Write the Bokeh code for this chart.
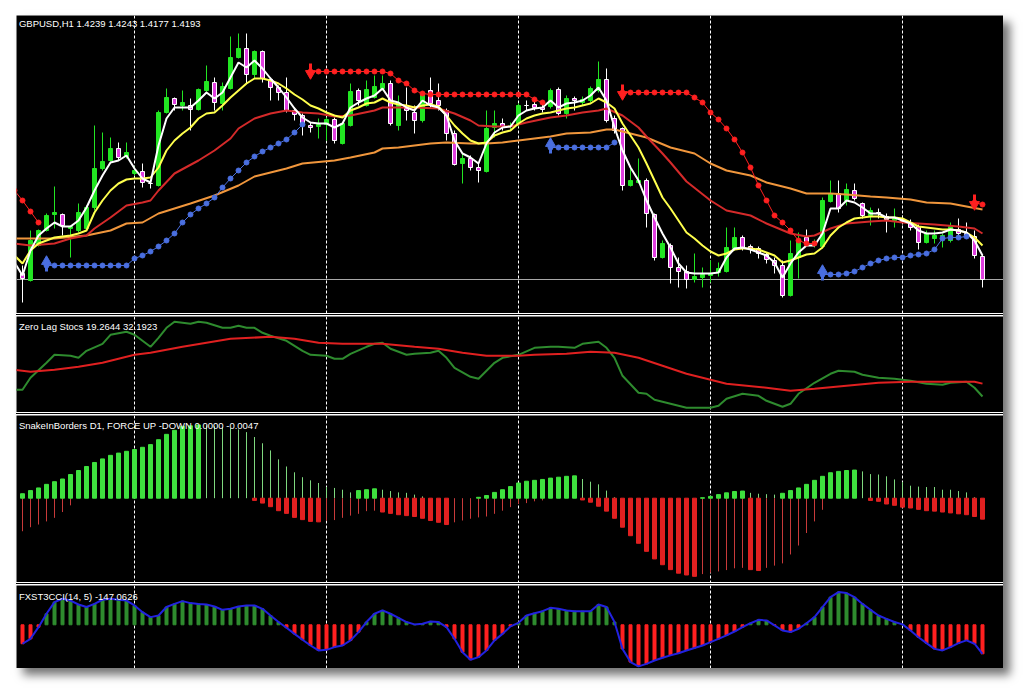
from bokeh.plotting import figure
from bokeh.layouts import column, row
from bokeh.models import Range1d, Span, Label, ColumnDataSource, Spacer
from bokeh.embed import file_html
from bokeh.resources import INLINE

# ---------------- data (GBPUSD H1) ----------------
open_ = [1.4205, 1.4191, 1.4261, 1.4291, 1.4323, 1.4323, 1.4295, 1.4291, 1.4295, 1.4337,
         1.4415, 1.4431, 1.4455, 1.4439, 1.4405, 1.4409, 1.4385, 1.4381, 1.4527, 1.4555,
         1.4541, 1.4541, 1.4533, 1.4571, 1.4587, 1.4545, 1.4575, 1.4637, 1.4655, 1.4603,
         1.4649, 1.4593, 1.4577, 1.4567, 1.4531, 1.4521, 1.4501, 1.4499, 1.4503, 1.4513,
         1.4465, 1.4501, 1.4571, 1.4541, 1.4557, 1.4575, 1.4585, 1.4501, 1.4535, 1.4527,
         1.4511, 1.4571, 1.4551, 1.4531, 1.4485, 1.4425, 1.4435, 1.4417, 1.4409, 1.4497,
         1.4505, 1.4499, 1.4503, 1.4541, 1.4543, 1.4537, 1.4539, 1.4573, 1.4525, 1.4555,
         1.4547, 1.4551, 1.4571, 1.4593, 1.4515, 1.4495, 1.4381, 1.4387, 1.4391, 1.4323,
         1.4237, 1.4261, 1.4217, 1.4209, 1.4193, 1.4197, 1.4201, 1.4207, 1.4209, 1.4255,
         1.4277, 1.4259, 1.4255, 1.4243, 1.4231, 1.4221, 1.4161, 1.4237, 1.4277, 1.4263,
         1.4259, 1.4349, 1.4365, 1.4351, 1.4371, 1.4345, 1.4321, 1.4327, 1.4319, 1.4311,
         1.4311, 1.4307, 1.4299, 1.4267, 1.4275, 1.4279, 1.4271, 1.4293, 1.4285, 1.4279,
         1.4239]
high_ = [1.4221, 1.4291, 1.4293, 1.4325, 1.4379, 1.4325, 1.4301, 1.4345, 1.4341, 1.4501,
         1.4487, 1.4477, 1.4467, 1.4467, 1.4419, 1.4425, 1.4391, 1.4531, 1.4575, 1.4557,
         1.4571, 1.4555, 1.4575, 1.4621, 1.4597, 1.4587, 1.4679, 1.4685, 1.4685, 1.4651,
         1.4651, 1.4597, 1.4581, 1.4597, 1.4537, 1.4525, 1.4507, 1.4515, 1.4517, 1.4517,
         1.4507, 1.4585, 1.4575, 1.4591, 1.4601, 1.4601, 1.4591, 1.4561, 1.4577, 1.4541,
         1.4565, 1.4597, 1.4585, 1.4535, 1.4491, 1.4447, 1.4441, 1.4425, 1.4531, 1.4531,
         1.4515, 1.4507, 1.4545, 1.4551, 1.4551, 1.4545, 1.4575, 1.4577, 1.4561, 1.4559,
         1.4559, 1.4579, 1.4629, 1.4615, 1.4521, 1.4497, 1.4415, 1.4435, 1.4395, 1.4325,
         1.4271, 1.4265, 1.4237, 1.4221, 1.4245, 1.4217, 1.4231, 1.4227, 1.4297, 1.4297,
         1.4281, 1.4263, 1.4259, 1.4247, 1.4237, 1.4231, 1.4271, 1.4287, 1.4293, 1.4273,
         1.4357, 1.4391, 1.4391, 1.4385, 1.4385, 1.4347, 1.4337, 1.4335, 1.4325, 1.4335,
         1.4321, 1.4313, 1.4303, 1.4291, 1.4291, 1.4285, 1.4307, 1.4315, 1.4307, 1.4291,
         1.4243]
low_ = [1.4147, 1.4189, 1.4259, 1.4289, 1.4295, 1.4281, 1.4237, 1.4287, 1.4293, 1.4331,
        1.4411, 1.4429, 1.4431, 1.4435, 1.4401, 1.4377, 1.4375, 1.4379, 1.4525, 1.4531,
        1.4531, 1.4491, 1.4531, 1.4567, 1.4531, 1.4531, 1.4573, 1.4635, 1.4585, 1.4595,
        1.4587, 1.4551, 1.4551, 1.4527, 1.4511, 1.4481, 1.4487, 1.4475, 1.4471, 1.4465,
        1.4463, 1.4499, 1.4541, 1.4539, 1.4555, 1.4571, 1.4501, 1.4491, 1.4511, 1.4485,
        1.4507, 1.4537, 1.4531, 1.4471, 1.4421, 1.4385, 1.4411, 1.4387, 1.4407, 1.4477,
        1.4491, 1.4491, 1.4499, 1.4531, 1.4531, 1.4527, 1.4535, 1.4521, 1.4515, 1.4531,
        1.4541, 1.4547, 1.4567, 1.4507, 1.4485, 1.4371, 1.4379, 1.4385, 1.4297, 1.4231,
        1.4235, 1.4185, 1.4177, 1.4175, 1.4187, 1.4177, 1.4187, 1.4199, 1.4207, 1.4251,
        1.4251, 1.4245, 1.4235, 1.4225, 1.4205, 1.4157, 1.4159, 1.4195, 1.4261, 1.4257,
        1.4255, 1.4347, 1.4327, 1.4341, 1.4351, 1.4315, 1.4301, 1.4315, 1.4287, 1.4297,
        1.4303, 1.4291, 1.4253, 1.4265, 1.4265, 1.4257, 1.4267, 1.4279, 1.4275, 1.4235,
        1.4177]
close_ = [1.4195, 1.4271, 1.4291, 1.4321, 1.4327, 1.4301, 1.4299, 1.4327, 1.4337, 1.4415,
          1.4429, 1.4455, 1.4437, 1.4447, 1.4411, 1.4387, 1.4385, 1.4527, 1.4557, 1.4543,
          1.4547, 1.4533, 1.4573, 1.4589, 1.4547, 1.4579, 1.4637, 1.4655, 1.4603, 1.4649,
          1.4595, 1.4577, 1.4567, 1.4531, 1.4523, 1.4501, 1.4497, 1.4503, 1.4513, 1.4471,
          1.4505, 1.4569, 1.4551, 1.4573, 1.4579, 1.4585, 1.4505, 1.4545, 1.4531, 1.4511,
          1.4563, 1.4545, 1.4541, 1.4485, 1.4423, 1.4435, 1.4417, 1.4411, 1.4495, 1.4505,
          1.4499, 1.4501, 1.4541, 1.4541, 1.4537, 1.4533, 1.4571, 1.4525, 1.4555, 1.4551,
          1.4553, 1.4575, 1.4593, 1.4511, 1.4491, 1.4381, 1.4391, 1.4391, 1.4325, 1.4237,
          1.4265, 1.4217, 1.4209, 1.4193, 1.4199, 1.4203, 1.4205, 1.4215, 1.4257, 1.4277,
          1.4257, 1.4253, 1.4245, 1.4233, 1.4221, 1.4161, 1.4245, 1.4271, 1.4269, 1.4269,
          1.4351, 1.4365, 1.4335, 1.4373, 1.4355, 1.4321, 1.4331, 1.4325, 1.4313, 1.4315,
          1.4309, 1.4297, 1.4267, 1.4285, 1.4281, 1.4281, 1.4299, 1.4285, 1.4279, 1.4241,
          1.4193]

# moving averages (white: fast, yellow, red, orange: slow)
white_x = list(range(-1, 121))
white_ma = [1.4227, 1.4201, 1.4251, 1.4281, 1.4295, 1.4307, 1.4299, 1.4299, 1.4311, 1.4337, 1.4371,
            1.4401, 1.4427, 1.4431, 1.4441, 1.4415, 1.4395, 1.4387, 1.4461, 1.4515, 1.4537,
            1.4537, 1.4537, 1.4551, 1.4567, 1.4555, 1.4567, 1.4597, 1.4627, 1.4617, 1.4631,
            1.4615, 1.4595, 1.4577, 1.4557, 1.4535, 1.4517, 1.4507, 1.4505, 1.4505, 1.4497,
            1.4505, 1.4537, 1.4547, 1.4555, 1.4561, 1.4575, 1.4551, 1.4547, 1.4537, 1.4531,
            1.4551, 1.4541, 1.4537, 1.4521, 1.4471, 1.4445, 1.4437, 1.4425, 1.4465, 1.4487,
            1.4497, 1.4499, 1.4521, 1.4531, 1.4535, 1.4537, 1.4551, 1.4537, 1.4545, 1.4547,
            1.4551, 1.4561, 1.4577, 1.4551, 1.4497, 1.4451, 1.4417, 1.4391, 1.4351, 1.4317,
            1.4285, 1.4257, 1.4225, 1.4207, 1.4205, 1.4205, 1.4205, 1.4207, 1.4237, 1.4255,
            1.4257, 1.4253, 1.4247, 1.4241, 1.4227, 1.4197, 1.4225, 1.4247, 1.4261, 1.4261,
            1.4285, 1.4335, 1.4335, 1.4351, 1.4347, 1.4337, 1.4325, 1.4325, 1.4317, 1.4317,
            1.4311, 1.4305, 1.4291, 1.4285, 1.4285, 1.4287, 1.4293, 1.4291, 1.4287, 1.4271,
            1.4241]
yellow_x = list(range(-1, 121))
yellow_ma = [1.4241, 1.4225, 1.4251, 1.4265, 1.4271, 1.4277, 1.4279, 1.4281, 1.4285, 1.4291, 1.4327,
             1.4351, 1.4371, 1.4385, 1.4393, 1.4395, 1.4395, 1.4397, 1.4417, 1.4451, 1.4471,
             1.4485, 1.4497, 1.4515, 1.4525, 1.4527, 1.4541, 1.4557, 1.4571, 1.4585, 1.4595,
             1.4595, 1.4591, 1.4585, 1.4575, 1.4563, 1.4553, 1.4541, 1.4535, 1.4527, 1.4521,
             1.4517, 1.4531, 1.4537, 1.4545, 1.4547, 1.4555, 1.4547, 1.4543, 1.4541, 1.4537,
             1.4541, 1.4543, 1.4539, 1.4521, 1.4501, 1.4485, 1.4471, 1.4465, 1.4467, 1.4481,
             1.4487, 1.4491, 1.4505, 1.4515, 1.4521, 1.4525, 1.4527, 1.4531, 1.4535, 1.4537,
             1.4541, 1.4545, 1.4555, 1.4547, 1.4535, 1.4505, 1.4481, 1.4457, 1.4425, 1.4391,
             1.4357, 1.4335, 1.4311, 1.4287, 1.4275, 1.4261, 1.4249, 1.4241, 1.4245, 1.4253,
             1.4255, 1.4255, 1.4253, 1.4247, 1.4241, 1.4227, 1.4231, 1.4237, 1.4243, 1.4245,
             1.4257, 1.4281, 1.4297, 1.4307, 1.4315, 1.4317, 1.4319, 1.4319, 1.4317, 1.4317,
             1.4315, 1.4307, 1.4299, 1.4297, 1.4295, 1.4293, 1.4293, 1.4291, 1.4287, 1.4277,
             1.4261]
red_x = [-1, 1, 4, 6, 8, 9, 11, 13, 15, 16, 17, 19, 22, 24, 26, 27, 29, 31, 33, 35,
         37, 39, 41, 44, 45, 47, 49, 52, 54, 56, 57, 59, 61, 63, 66, 68, 70, 72, 73, 75,
         77, 78, 80, 81, 83, 86, 88, 91, 93, 96, 98, 99, 101, 103, 106, 108, 110, 112, 114, 117,
         119, 120]
red_ma = [1.4265, 1.4261, 1.4265, 1.4275, 1.4281, 1.4295, 1.4317, 1.4341, 1.4347, 1.4351,
          1.4371, 1.4405, 1.4431, 1.4451, 1.4475, 1.4495, 1.4515, 1.4525, 1.4531, 1.4527,
          1.4525, 1.4519, 1.4521, 1.4531, 1.4537, 1.4537, 1.4537, 1.4535, 1.4525, 1.4511,
          1.4501, 1.4499, 1.4499, 1.4507, 1.4517, 1.4521, 1.4527, 1.4531, 1.4535, 1.4521,
          1.4497, 1.4479, 1.4445, 1.4427, 1.4389, 1.4351, 1.4331, 1.4321, 1.4305, 1.4285,
          1.4279, 1.4281, 1.4295, 1.4305, 1.4309, 1.4311, 1.4307, 1.4305, 1.4303, 1.4299,
          1.4295, 1.4285]
orange_x = [-1, 4, 8, 11, 13, 15, 17, 21, 24, 27, 29, 33, 35, 39, 41, 44, 45, 47, 51, 53,
            56, 58, 60, 62, 66, 68, 71, 73, 74, 76, 78, 81, 84, 86, 88, 91, 93, 96, 98, 101,
            103, 106, 108, 111, 113, 116, 118, 120]
orange_ma = [1.4275, 1.4275, 1.4281, 1.4291, 1.4305, 1.4307, 1.4325, 1.4345, 1.4361, 1.4381,
             1.4399, 1.4415, 1.4425, 1.4431, 1.4437, 1.4447, 1.4455, 1.4457, 1.4465, 1.4467,
             1.4465, 1.4465, 1.4467, 1.4471, 1.4479, 1.4485, 1.4487, 1.4493, 1.4493, 1.4485,
             1.4477, 1.4457, 1.4445, 1.4425, 1.4411, 1.4401, 1.4387, 1.4375, 1.4365, 1.4365,
             1.4363, 1.4359, 1.4357, 1.4353, 1.4347, 1.4345, 1.4339, 1.4333]

# trailing-stop dots: blue (support) and red (resistance) segments
blue_sar = [
    (list(range(3, 36)), [1.4221] * 11 + [1.4235, 1.4241, 1.4249, 1.4259, 1.4271, 1.4285, 1.4307,
                                          1.4323, 1.4335, 1.4345, 1.4357, 1.4377, 1.4395, 1.4411,
                                          1.4427, 1.4439, 1.4449, 1.4457, 1.4465, 1.4473, 1.4487, 1.4503]),
    (list(range(66, 75)), [1.4457] * 8 + [1.4467]),
    (list(range(100, 119)), [1.4203, 1.4203, 1.4203, 1.4205, 1.4209, 1.4217, 1.4225, 1.4231, 1.4235,
                             1.4237, 1.4237, 1.4241, 1.4243, 1.4245, 1.4253, 1.4275, 1.4277, 1.4277, 1.4279]),
]
red_sar = [
    (list(range(-1, 3)), [1.4371, 1.4351, 1.4329, 1.4307]),
    (list(range(36, 66)), [1.4609] * 10 + [1.4605, 1.4591, 1.4585, 1.4571, 1.4565] + [1.4563] * 13
     + [1.4553, 1.4547]),
    (list(range(75, 100)), [1.4567] * 9 + [1.4557, 1.4547, 1.4527, 1.4513, 1.4495, 1.4473, 1.4447,
                                          1.4417, 1.4381, 1.4351, 1.4321, 1.4307, 1.4291, 1.4271,
                                          1.4265, 1.4265]),
    ([119, 120], [1.4347, 1.4343]),
]
up_arrow_x = [3, 66, 100]
up_arrow_y = [1.4221, 1.4457, 1.4203]
dn_arrow_x = [36, 75, 119]
dn_arrow_y = [1.4609, 1.4567, 1.4347]

# Zero Lag Stochastic
stoch_main_x = [-1, 0, 1, 3, 4, 6, 7, 8, 10, 11, 13, 14, 15, 16, 17, 18, 19, 21, 22, 23,
                25, 26, 27, 28, 29, 30, 31, 33, 34, 35, 36, 38, 39, 40, 41, 43, 44, 45, 46, 48,
                49, 51, 52, 53, 54, 56, 57, 58, 59, 60, 62, 64, 66, 67, 69, 70, 72, 73, 74, 75,
                77, 78, 79, 81, 83, 86, 87, 88, 90, 92, 93, 95, 96, 97, 99, 101, 102, 104, 105, 107,
                109, 111, 113, 115, 116, 118, 119, 120]
stoch_main = [26, 26, 38, 53, 61, 60, 58, 65, 72, 81, 84, 81, 75, 69, 78, 88, 94, 92, 94, 93,
              88, 88, 90, 88, 88, 83, 80, 75, 70, 65, 61, 60, 57, 57, 62, 69, 72, 73, 67, 61,
              62, 63, 65, 58, 48, 39, 37, 45, 53, 58, 61, 68, 69, 69, 68, 72, 74, 68, 58, 40,
              23, 22, 16, 12, 8, 8, 10, 17, 22, 20, 15, 9, 12, 22, 33, 42, 45, 44, 41, 38,
              37, 35, 32, 31, 33, 34, 28, 19.2644]
stoch_sig_x = [-1, 1, 4, 7, 10, 12, 14, 16, 20, 23, 26, 31, 34, 37, 40, 43, 45, 49, 52, 55,
               58, 62, 64, 68, 71, 74, 77, 80, 83, 86, 88, 93, 96, 99, 103, 107, 111, 115, 119, 120]
stoch_sig = [46, 44, 46, 49, 53, 57, 61, 63, 69, 73, 77, 79, 77, 73, 72, 72, 72, 69, 67, 63,
             60, 60, 61, 62, 64, 63, 58, 50, 42, 36, 32, 28, 25, 27, 30, 33, 34, 34, 34, 32.1923]

# SnakeInBorders force up / down
snake_up = [0.0010, 0.0017, 0.0023, 0.0031, 0.0037, 0.0043, 0.0053, 0.0062, 0.0071, 0.0080,
            0.0088, 0.0096, 0.0101, 0.0105, 0.0109, 0.0114, 0.0120, 0.0131, 0.0143, 0.0152,
            0.0161, 0.0162, 0.0164, 0.0163, 0.0161, 0.0159, 0.0157, 0.0154, 0.0148, 0.0137,
            0.0123, 0.0107, 0.0087, 0.0071, 0.0058, 0.0047, 0.0040, 0.0034, 0.0025, 0.0023,
            0.0019, 0.0013, 0.0017, 0.0019, 0.0021, 0.0019, 0.0016, 0.0013, 0.0012, 0.0008,
            0.0004, 0.0, 0.0, 0.0, 0.0, 0.0, 0.0, 0.0002, 0.0006, 0.0013,
            0.0019, 0.0026, 0.0034, 0.0038, 0.0040, 0.0042, 0.0045, 0.0047, 0.0049, 0.0050,
            0.0043, 0.0037, 0.0031, 0.0017, 0.0002, 0.0, 0.0, 0.0, 0.0, 0.0,
            0.0, 0.0, 0.0, 0.0, 0.0, 0.0001, 0.0004, 0.0008, 0.0012, 0.0015,
            0.0016, 0.0012, 0.0010, 0.0009, 0.0008, 0.0011, 0.0017, 0.0023, 0.0031, 0.0040,
            0.0049, 0.0057, 0.0060, 0.0062, 0.0063, 0.0060, 0.0054, 0.0053, 0.0049, 0.0042,
            0.0036, 0.0028, 0.0026, 0.0025, 0.0025, 0.0019, 0.0019, 0.0016, 0.0013, 0.0002,
            0.0000]
snake_dn = [-0.0074, -0.0065, -0.0059, -0.0052, -0.0044, -0.0031, -0.0016, 0.0, 0.0, 0.0,
            0.0, 0.0, 0.0, 0.0, 0.0, 0.0, 0.0, 0.0, 0.0, 0.0,
            0.0, 0.0, 0.0, 0.0, 0.0, 0.0, 0.0, 0.0, 0.0, -0.0005,
            -0.0011, -0.0019, -0.0028, -0.0034, -0.0043, -0.0048, -0.0052, -0.0053, -0.0050, -0.0049,
            -0.0044, -0.0039, -0.0035, -0.0029, -0.0028, -0.0031, -0.0034, -0.0037, -0.0039, -0.0041,
            -0.0045, -0.0050, -0.0054, -0.0059, -0.0054, -0.0050, -0.0046, -0.0043, -0.0041, -0.0035,
            -0.0028, -0.0020, -0.0013, -0.0011, -0.0007, -0.0005, 0.0, 0.0, 0.0, 0.0,
            -0.0004, -0.0009, -0.0018, -0.0029, -0.0045, -0.0065, -0.0084, -0.0101, -0.0119, -0.0136,
            -0.0149, -0.0160, -0.0168, -0.0172, -0.0175, -0.0170, -0.0167, -0.0164, -0.0161, -0.0157,
            -0.0156, -0.0160, -0.0162, -0.0156, -0.0151, -0.0146, -0.0126, -0.0106, -0.0078, -0.0052,
            -0.0026, 0.0, 0.0, 0.0, 0.0, 0.0, -0.0005, -0.0007, -0.0013, -0.0016,
            -0.0020, -0.0022, -0.0025, -0.0028, -0.0029, -0.0031, -0.0033, -0.0035, -0.0037, -0.0041,
            -0.0047]

# FXST3CCI(14, 5)
cci = [-96, -71, -12, 56, 115, 132, 123, 103, 90, 106,
       127, 132, 127, 123, 98, 64, 39, 47, 90, 106,
       120, 110, 106, 103, 93, 76, 81, 93, 98, 98,
       81, 47, 14, -15, -46, -76, -105, -130, -127, -113,
       -105, -79, -37, 14, 56, 73, 56, 35, 14, 2,
       5, 17, 14, -12, -71, -139, -177, -164, -130, -79,
       -46, -8, 10, 47, 59, 69, 86, 81, 73, 69,
       69, 69, 103, 90, 14, -122, -189, -211, -198, -181,
       -167, -155, -144, -130, -118, -105, -88, -71, -54, -34,
       -12, 8, 25, 22, -3, -29, -37, -20, 8, 39,
       90, 140, 166, 161, 140, 106, 76, 47, 30, 14,
       2, -29, -63, -93, -122, -130, -113, -93, -79, -96,
       -147.0626]

day_sep = [14, 38, 62, 86, 110]

title_main = "GBPUSD,H1  1.4239 1.4243 1.4177 1.4193"
title_stoch = "Zero Lag Stocs 19.2644 32.1923"
title_snake = "SnakeInBorders D1, FORCE UP -DOWN  0.0000 -0.0047"
title_cci = "FXST3CCI(14, 5) -147.0626"

# ---------------- layout ----------------
N = len(close_)
idx = list(range(N))
FRAME_W = 987
xr = Range1d(-0.75, 122.625)

H1, H2, H3, H4 = 298, 96, 167, 83
R1 = (1.4125, 1.4721)
R2 = (3.3, 99.3)
R3 = (-0.01888, 0.01852)
R4 = (-221.6, 199.3)


def make_pane(h, rng):
    p = figure(width=FRAME_W, height=h, x_range=xr, y_range=Range1d(*rng),
               output_backend="svg", toolbar_location=None, min_border=0,
               x_axis_location=None, y_axis_location=None,
               background_fill_color="black", border_fill_color="black",
               outline_line_color=None)
    p.grid.visible = False
    for g in day_sep:
        p.add_layout(Span(location=g, dimension="height", line_color="white",
                          line_width=1, line_dash="3 2", level="underlay"))
    return p


def add_title(p, text, h, rng, top_px):
    ppx = (rng[1] - rng[0]) / h
    p.add_layout(Label(x=-0.45, y=rng[1] - top_px * ppx, text=text, text_color="white",
                       text_font="Liberation Sans", text_font_size="9.5px",
                       text_baseline="top", text_align="left"))


# ---- main pane ----
p1 = make_pane(H1, R1)
px1 = (R1[1] - R1[0]) / H1
p1.add_layout(Span(location=close_[-1], dimension="width", line_color="#a8a8a8",
                   line_width=1, level="underlay"))

BULL, BEAR = "#22e622", "#e03ee0"
fill = [BULL if c > o else (BEAR if c < o else "white") for o, c in zip(open_, close_)]
edge = [BULL if c > o else "white" for o, c in zip(open_, close_)]
src = ColumnDataSource(dict(x=idx, hi=high_, lo=low_,
                            top=[max(o, c) for o, c in zip(open_, close_)],
                            bot=[min(o, c) for o, c in zip(open_, close_)],
                            fill=fill, edge=edge))
p1.segment(x0="x", y0="lo", x1="x", y1="hi", line_color="edge", line_width=1, source=src)
p1.vbar(x="x", width=0.5, top="top", bottom="bot", fill_color="fill", line_color="edge",
        line_width=1, source=src)

p1.line(orange_x, orange_ma, line_color="#f0963c", line_width=2)
p1.line(red_x, red_ma, line_color="#d42a2a", line_width=2)
p1.line(yellow_x, yellow_ma, line_color="#ffff4d", line_width=2)
p1.line(white_x, white_ma, line_color="white", line_width=2)

BLUE, RED = "#4a6fe0", "#ff2020"
for xs, ys in blue_sar:
    p1.line(xs, ys, line_color=BLUE, line_width=1)
    p1.scatter(xs, ys, size=5, color=BLUE)
for xs, ys in red_sar:
    p1.line(xs, ys, line_color=RED, line_width=1)
    p1.scatter(xs, ys, size=5, color=RED)

# arrows (head + stem)
p1.scatter(up_arrow_x, [y + 4 * px1 for y in up_arrow_y], marker="triangle", size=10, color=BLUE)
p1.segment(up_arrow_x, [y + 1 * px1 for y in up_arrow_y], up_arrow_x,
           [y - 6 * px1 for y in up_arrow_y], line_width=3, line_color=BLUE)
p1.scatter(dn_arrow_x, [y - 2 * px1 for y in dn_arrow_y], marker="inverted_triangle", size=10, color=RED)
p1.segment(dn_arrow_x, [y + 1 * px1 for y in dn_arrow_y], dn_arrow_x,
           [y + 8 * px1 for y in dn_arrow_y], line_width=3, line_color=RED)
add_title(p1, title_main, H1, R1, 2)

# ---- zero lag stochastic ----
p2 = make_pane(H2, R2)
p2.line(stoch_main_x, stoch_main, line_color="#2e8b2e", line_width=2)
p2.line(stoch_sig_x, stoch_sig, line_color="#e02020", line_width=2)
add_title(p2, title_stoch, H2, R2, 4)

# ---- snake in borders ----
p3 = make_pane(H3, R3)
g_thick = [True] + [snake_up[i] > snake_up[i - 1] for i in range(1, N)]
r_thick = [False] + [abs(snake_dn[i]) > abs(snake_dn[i - 1]) for i in range(1, N)]
gx_t = [i for i in idx if g_thick[i] and snake_up[i] > 0]
gx_n = [i for i in idx if not g_thick[i] and snake_up[i] > 0]
rx_t = [i for i in idx if r_thick[i] and snake_dn[i] < 0]
rx_n = [i for i in idx if not r_thick[i] and snake_dn[i] < 0]
p3.segment(gx_n, [0] * len(gx_n), gx_n, [snake_up[i] for i in gx_n], line_color="#7fd87f", line_width=1)
p3.segment(rx_n, [0] * len(rx_n), rx_n, [snake_dn[i] for i in rx_n], line_color="#c83a3a", line_width=1)
p3.vbar(x=gx_t, width=0.5, top=[snake_up[i] for i in gx_t], bottom=0, color="#3ee03e")
p3.vbar(x=rx_t, width=0.5, top=0, bottom=[snake_dn[i] for i in rx_t], color="#e02020")
add_title(p3, title_snake, H3, R3, 4)

# ---- FXST3CCI ----
p4 = make_pane(H4, R4)
cci_col = ["#2e8b2e" if v >= 0 else "#ff2020" for v in cci]
p4.vbar(x=idx, width=0.375, top=[max(v, 0) for v in cci], bottom=[min(v, 0) for v in cci],
        color=cci_col)
p4.line(idx, cci, line_color="#2222e0", line_width=2)
add_title(p4, title_cci, H4, R4, 5)


def separator():
    # a thin black rule between two white rules (the column gap shows white)
    return Spacer(width=FRAME_W, height=1, styles={"background-color": "black"})


inner = column(p1, separator(), p2, separator(), p3, separator(), p4, spacing=1,
               styles={"background-color": "white",
                       "box-shadow": "7px 7px 9px rgba(0,0,0,0.55)"})
layout = column(Spacer(width=16, height=15), row(Spacer(width=16, height=10), inner))

open("out.html", "w").write(file_html(layout, INLINE))
